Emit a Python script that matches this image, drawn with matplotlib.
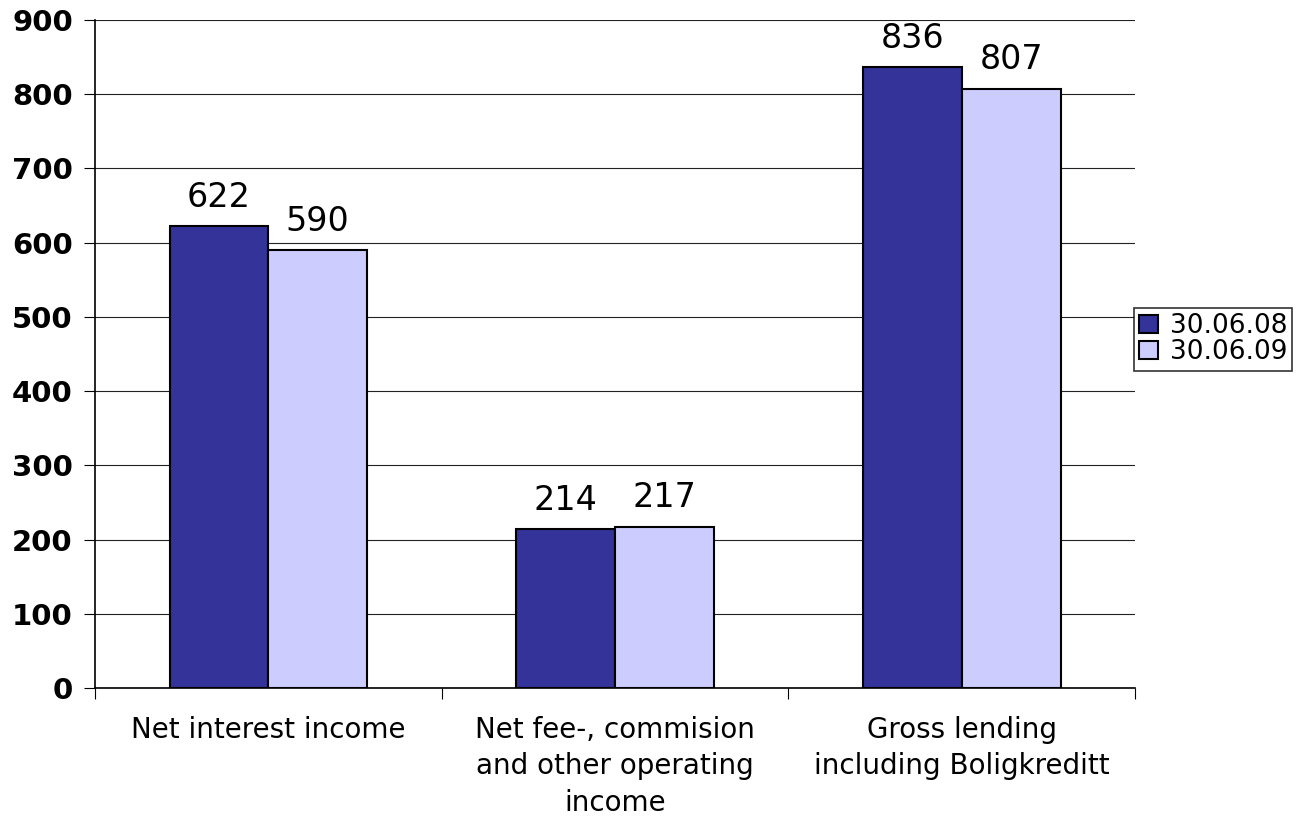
import numpy as np
import matplotlib.pyplot as plt

# data
categories = ['Net interest income',
              'Net fee-, commision\nand other operating\nincome',
              'Gross lending\nincluding Boligkreditt']
series_names = ['30.06.08', '30.06.09']
values_2008 = [622, 214, 836]
values_2009 = [590, 217, 807]

fig = plt.figure(figsize=(12.96, 8.18), dpi=100)
ax = fig.add_axes([0.0733, 0.1589, 0.8025, 0.8167])

x = np.arange(len(categories))
w = 0.285
b1 = ax.bar(x - w / 2, values_2008, w, color='#333399', edgecolor='black',
            linewidth=1.5, label=series_names[0], zorder=3)
b2 = ax.bar(x + w / 2, values_2009, w, color='#CCCCFF', edgecolor='black',
            linewidth=1.5, label=series_names[1], zorder=3)

for bars in (b1, b2):
    ax.bar_label(bars, padding=9, fontsize=24)

ax.set_xlim(-0.5, 2.5)
ax.set_ylim(0, 900)
ax.set_yticks(np.arange(0, 901, 100))
ax.yaxis.grid(True, color='#222222', linewidth=0.8, zorder=0)
ax.set_axisbelow(True)

ax.spines['top'].set_visible(False)
ax.spines['right'].set_visible(False)
ax.spines['left'].set_linewidth(1.2)
ax.spines['bottom'].set_linewidth(1.2)

# category ticks sit at group boundaries, labels in the middle
ax.set_xticks(np.arange(-0.5, 3.0, 1.0))
ax.set_xticklabels([])
ax.set_xticks(x, minor=True)
ax.set_xticklabels(categories, minor=True, fontsize=20, linespacing=1.38)
ax.tick_params(axis='x', which='minor', length=0, pad=20)
ax.tick_params(axis='x', which='major', length=8, direction='out')
ax.tick_params(axis='y', length=8, direction='out', pad=8)
for lbl in ax.get_yticklabels():
    lbl.set_fontsize(21)
    lbl.set_fontweight('bold')

leg = ax.legend(loc='center left', bbox_to_anchor=(0.999, 0.522), fontsize=19,
                frameon=True, fancybox=False, edgecolor='black',
                handlelength=0.7, handleheight=0.7, handletextpad=0.45,
                borderpad=0.2, labelspacing=0.0, borderaxespad=0)
leg.get_frame().set_linewidth(1.2)

fig.savefig('out.png', dpi=100)
